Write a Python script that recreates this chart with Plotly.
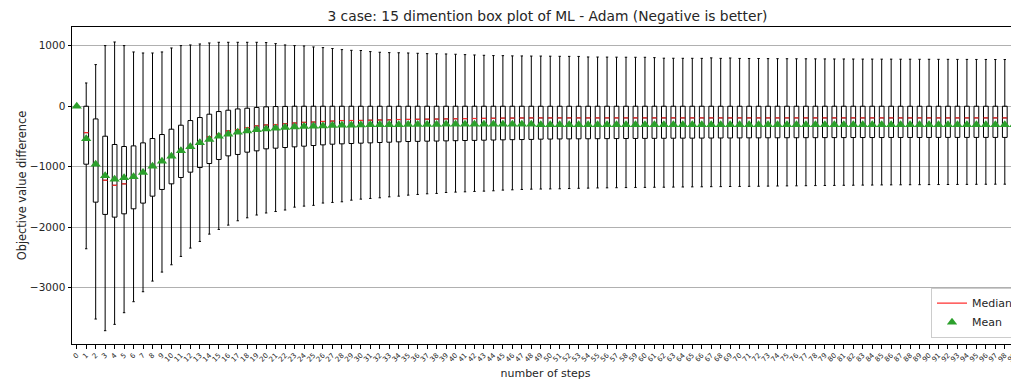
import plotly.graph_objects as go

steps = list(range(100))
step_labels = [str(s) for s in steps]

upper_whisker = [
    0, 385, 689, 1003, 1063, 1003, 898, 881, 881, 898,
    964, 1003, 1014, 1030, 1047, 1058, 1058, 1058, 1058, 1058,
    1053, 1036, 1014, 1003, 997, 981, 970, 955, 937, 925,
    922, 904, 893, 887, 885, 881, 876, 870, 868, 865,
    860, 854, 848, 843, 838, 837, 833, 832, 830, 830,
    828, 826, 825, 824, 815, 814, 813, 812, 811, 810,
    810, 804, 795, 794, 793, 793, 792, 800, 792, 798,
    791, 790, 790, 788, 787, 786, 785, 785, 784, 783,
    782, 782, 781, 780, 780, 779, 779, 778, 778, 777,
    777, 776, 776, 775, 775, 774, 774, 773, 773, 772,
]

q3 = [
    0, 0, -210, -496, -633, -666, -656, -606, -534, -468,
    -380, -314, -237, -187, -132, -88, -66, -45, -33, -20,
    -10, -5, -3, 0, 0, 0, 0, 0, 0, 0,
    0, 0, 0, 0, 0, 0, 0, 0, 0, 0,
    0, 0, 0, 0, 0, 0, 0, 0, 0, 0,
    0, 0, 0, 0, 0, 0, 0, 0, 0, 0,
    0, 0, 0, 0, 0, 0, 0, 0, 0, 0,
    0, 0, 0, 0, 0, 0, 0, 0, 0, 0,
    0, 0, 0, 0, 0, 0, 0, 0, 0, 0,
    0, 0, 0, 0, 0, 0, 0, 0, 0, 0,
]

medians = [
    0, -437, -955, -1225, -1308, -1284, -1175, -1095, -990, -905,
    -820, -735, -655, -590, -507, -463, -408, -386, -353, -325,
    -310, -303, -290, -278, -267, -262, -252, -246, -237, -236,
    -235, -231, -228, -226, -220, -218, -216, -214, -212, -209,
    -207, -205, -203, -201, -199, -197, -196, -194, -193, -193,
    -193, -193, -193, -193, -193, -193, -193, -193, -193, -193,
    -193, -193, -193, -193, -193, -193, -193, -193, -193, -193,
    -193, -193, -193, -193, -193, -193, -193, -193, -193, -193,
    -193, -193, -193, -193, -193, -193, -193, -193, -193, -193,
    -193, -193, -193, -193, -193, -193, -193, -193, -193, -193,
]

means = [
    0, -540, -959, -1150, -1207, -1185, -1165, -1096, -992, -909,
    -826, -738, -672, -606, -551, -496, -463, -430, -408, -390,
    -375, -364, -353, -342, -336, -331, -326, -320, -316, -314,
    -309, -308, -307, -306, -305, -304, -303, -302, -301, -300,
    -300, -300, -300, -300, -300, -300, -300, -300, -300, -305,
    -305, -305, -305, -305, -305, -305, -305, -305, -305, -305,
    -305, -305, -305, -305, -305, -305, -305, -305, -305, -305,
    -308, -308, -308, -308, -308, -308, -308, -308, -308, -308,
    -308, -308, -308, -308, -308, -308, -308, -308, -308, -308,
    -308, -308, -308, -308, -308, -308, -308, -308, -308, -308,
]

q1 = [
    0, -959, -1587, -1790, -1835, -1780, -1697, -1603, -1488, -1377,
    -1284, -1179, -1091, -1014, -948, -881, -821, -798, -760, -738,
    -705, -694, -683, -672, -661, -650, -639, -628, -622, -617,
    -611, -606, -600, -595, -589, -584, -581, -578, -576, -573,
    -570, -567, -565, -562, -559, -556, -553, -551, -549, -545,
    -543, -541, -540, -539, -538, -537, -536, -535, -534, -533,
    -532, -531, -530, -529, -528, -528, -527, -526, -525, -525,
    -524, -523, -523, -522, -522, -521, -521, -520, -520, -519,
    -519, -519, -518, -518, -518, -518, -517, -517, -517, -517,
    -517, -516, -516, -516, -516, -516, -516, -516, -516, -516,
]

lower_whisker = [
    0, -2358, -3521, -3714, -3609, -3416, -3234, -3069, -2893, -2744,
    -2623, -2485, -2347, -2237, -2116, -2038, -1967, -1895, -1846, -1800,
    -1766, -1742, -1717, -1670, -1653, -1640, -1602, -1592, -1581, -1554,
    -1537, -1526, -1515, -1499, -1488, -1471, -1460, -1449, -1443, -1427,
    -1421, -1416, -1410, -1405, -1399, -1388, -1383, -1377, -1372, -1370,
    -1368, -1366, -1362, -1358, -1355, -1352, -1350, -1348, -1346, -1344,
    -1343, -1341, -1340, -1338, -1336, -1334, -1333, -1331, -1330, -1328,
    -1327, -1325, -1324, -1322, -1320, -1318, -1317, -1315, -1313, -1311,
    -1310, -1308, -1307, -1305, -1304, -1302, -1301, -1300, -1299, -1298,
    -1297, -1296, -1295, -1294, -1293, -1292, -1291, -1290, -1290, -1289,
]

y_tick_vals = [1000, 0, -1000, -2000, -3000]
y_tick_text = ["1000", "0", "\u22121000", "\u22122000", "\u22123000"]

FONT = "DejaVu Sans"
BOX_W = 0.5

fig = go.Figure()

fig.add_trace(go.Box(
    x=steps,
    q1=q1, median=medians, q3=q3,
    lowerfence=lower_whisker, upperfence=upper_whisker,
    width=BOX_W,
    whiskerwidth=0.5,
    fillcolor="rgba(255,255,255,0)",
    line=dict(color="black", width=1),
    boxpoints=False,
    showlegend=False,
    hoverinfo="skip",
))

med_x, med_y = [], []
for s, m in zip(steps, medians):
    med_x += [s - BOX_W / 2, s + BOX_W / 2, None]
    med_y += [m, m, None]

fig.add_trace(go.Scatter(
    x=med_x, y=med_y, mode="lines",
    line=dict(color="#ff3030", width=1.2),
    name="Median",
))

fig.add_trace(go.Scatter(
    x=steps, y=means, mode="markers",
    marker=dict(symbol="triangle-up", color="#2ca02c", size=9),
    name="Mean",
))

# the page body has an 8px margin, so the figure sits at (8, 8) in the window
fig.update_layout(
    width=1011, height=375,
    margin=dict(l=64, r=0, t=19, b=39, autoexpand=False),
    paper_bgcolor="white", plot_bgcolor="white",
    font=dict(family=FONT, size=10, color="#262626"),
    title=dict(
        text="3 case: 15 dimention box plot of ML - Adam (Negative is better)",
        x=0.5336, xanchor="center", y=0.978, yref="container", yanchor="middle",
        font=dict(family=FONT, size=13.8, color="#262626"),
    ),
    legend=dict(
        x=1.0, y=0.02, xanchor="right", yanchor="bottom",
        bgcolor="rgba(255,255,255,0.9)", bordercolor="#cccccc", borderwidth=1,
        font=dict(family=FONT, size=11, color="#262626"),
        tracegroupgap=0, itemwidth=30,
    ),
    showlegend=True,
)

fig.update_xaxes(
    range=[-0.5, 99.5],
    tickmode="array", tickvals=steps, ticktext=step_labels,
    tickangle=-45, tickfont=dict(size=7, family=FONT),
    ticks="outside", ticklen=3.5, tickcolor="black",
    showline=True, linecolor="black", linewidth=1, mirror=True,
    showgrid=False, zeroline=False, automargin=False,
    title=dict(text="number of steps", font=dict(size=11, family=FONT), standoff=6),
)

fig.update_yaxes(
    range=[-3934, 1311],
    tickmode="array", tickvals=y_tick_vals, ticktext=y_tick_text,
    tickfont=dict(size=10.5, family=FONT),
    ticks="outside", ticklen=3.5, tickcolor="black",
    showline=True, linecolor="black", linewidth=1,
    showgrid=True, gridcolor="#b0b0b0", gridwidth=0.8,
    zeroline=False, automargin=False,
    title=dict(text="Objective value difference", font=dict(size=11.4, family=FONT), standoff=0),
)

fig.write_html("out.html")
